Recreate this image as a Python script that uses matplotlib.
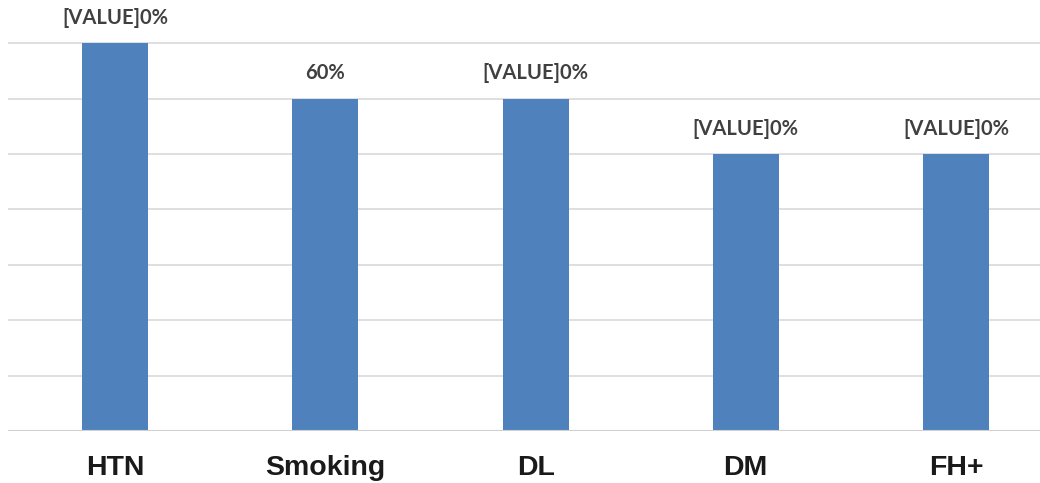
import numpy as np
import matplotlib.pyplot as plt

categories = ["HTN", "Smoking", "DL", "DM", "FH+"]
values = [70, 60, 60, 50, 50]
labels = ["[VALUE]0%", "60%", "[VALUE]0%", "[VALUE]0%", "[VALUE]0%"]

fig = plt.figure(figsize=(10.4, 4.83), dpi=100)
ax = fig.add_axes([0.0077, 0.1077, 0.9923, 0.8923])

x = np.arange(len(categories))
ax.bar(x, values, width=0.314, color="#4f81bd", zorder=3)

# gridlines every 10%
for y in range(10, 80, 10):
    ax.axhline(y, color="#d9d9d9", linewidth=1.2, zorder=1)
ax.axhline(0, color="#d0d0d0", linewidth=1.5, zorder=4)

for xi, v, lab in zip(x, values, labels):
    ax.annotate(lab, (xi, v), xytext=(0, 11), textcoords="offset points",
                ha="center", va="bottom", fontsize=14.5, fontweight="bold",
                family="Lato", color="#404040")

ax.set_xlim(-0.51, 4.4)
ax.set_ylim(0, 77.8)
ax.set_xticks(x)
ax.set_xticklabels(categories, fontsize=20.5, fontweight="bold",
                   family="Liberation Sans", color="#1a1a1a")
ax.tick_params(axis="x", length=0, pad=17)
ax.set_yticks([])
for s in ax.spines.values():
    s.set_visible(False)

fig.savefig("out.png", dpi=100)
